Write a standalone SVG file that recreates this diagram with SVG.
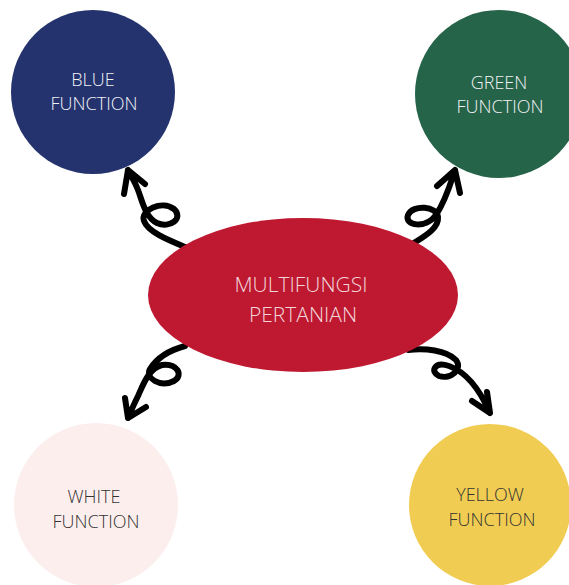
<svg xmlns="http://www.w3.org/2000/svg" width="569" height="585" viewBox="0 0 569 585">
<style>
.lbl{font-family:"Open Sans","Liberation Sans",sans-serif;font-weight:300;font-size:18px;text-anchor:middle}
.lt{fill:#f2f2f5}
.dk{fill:#333333}
.arr{fill:none;stroke:#000;stroke-width:6;stroke-linecap:round;stroke-linejoin:round}
</style>
<rect width="569" height="585" fill="#fff"/>
<g id="connectors">
<path class="arr" d="M185,247 C168,240 148,232 144,221 C140,210 162,200 174,209 C184,218 170,229 157,223 C145,217 142,200 138,190 C135,182 131,176 128,170 M124,194 L128,170 L145,184"/>
<path class="arr" d="M414,243 C425,236 439,228 438,217 C437,206 413,204 408,215 C404,226 426,229 436,215 C446,200 450,185 455,170 M437,186 L455,170 L460,193"/>
<path class="arr" d="M185,346 C170,350 157,358 150,369 C145,378 160,388 174,381 C184,375 177,363 162,365 C149,368 143,385 138,396 C134,404 131,411 128,418 M125,398 L128,418 L146,407"/>
<path class="arr" d="M408,350 C425,348 446,350 456,360 C463,369 451,380 439,376 C430,372 434,361 449,366 C466,372 480,390 490,413 M472,401 L490,413 L487,392"/>
</g>
<g id="blue">
<circle cx="93" cy="92" r="82" fill="#24336e"/>
<text class="lbl lt" x="93" y="86">BLUE</text>
<text class="lbl lt" x="94" y="110">FUNCTION</text>
</g>
<g id="green">
<circle cx="499" cy="94" r="84" fill="#256449"/>
<text class="lbl lt" x="499" y="89">GREEN</text>
<text class="lbl lt" x="500" y="113">FUNCTION</text>
</g>
<g id="white">
<circle cx="96" cy="505" r="82" fill="#fdeeee"/>
<text class="lbl dk" x="94" y="503">WHITE</text>
<text class="lbl dk" x="96" y="528">FUNCTION</text>
</g>
<g id="yellow">
<circle cx="490" cy="505" r="81" fill="#f1cc52"/>
<text class="lbl dk" x="490" y="501">YELLOW</text>
<text class="lbl dk" x="492" y="526">FUNCTION</text>
</g>
<g id="center">
<ellipse cx="303" cy="295" rx="155" ry="77" fill="#be1931"/>
<text class="lbl" style="font-size:21px;fill:#f3d6da" x="301" y="292">MULTIFUNGSI</text>
<text class="lbl" style="font-size:21px;fill:#f3d6da" x="303" y="322">PERTANIAN</text>
</g>
</svg>
